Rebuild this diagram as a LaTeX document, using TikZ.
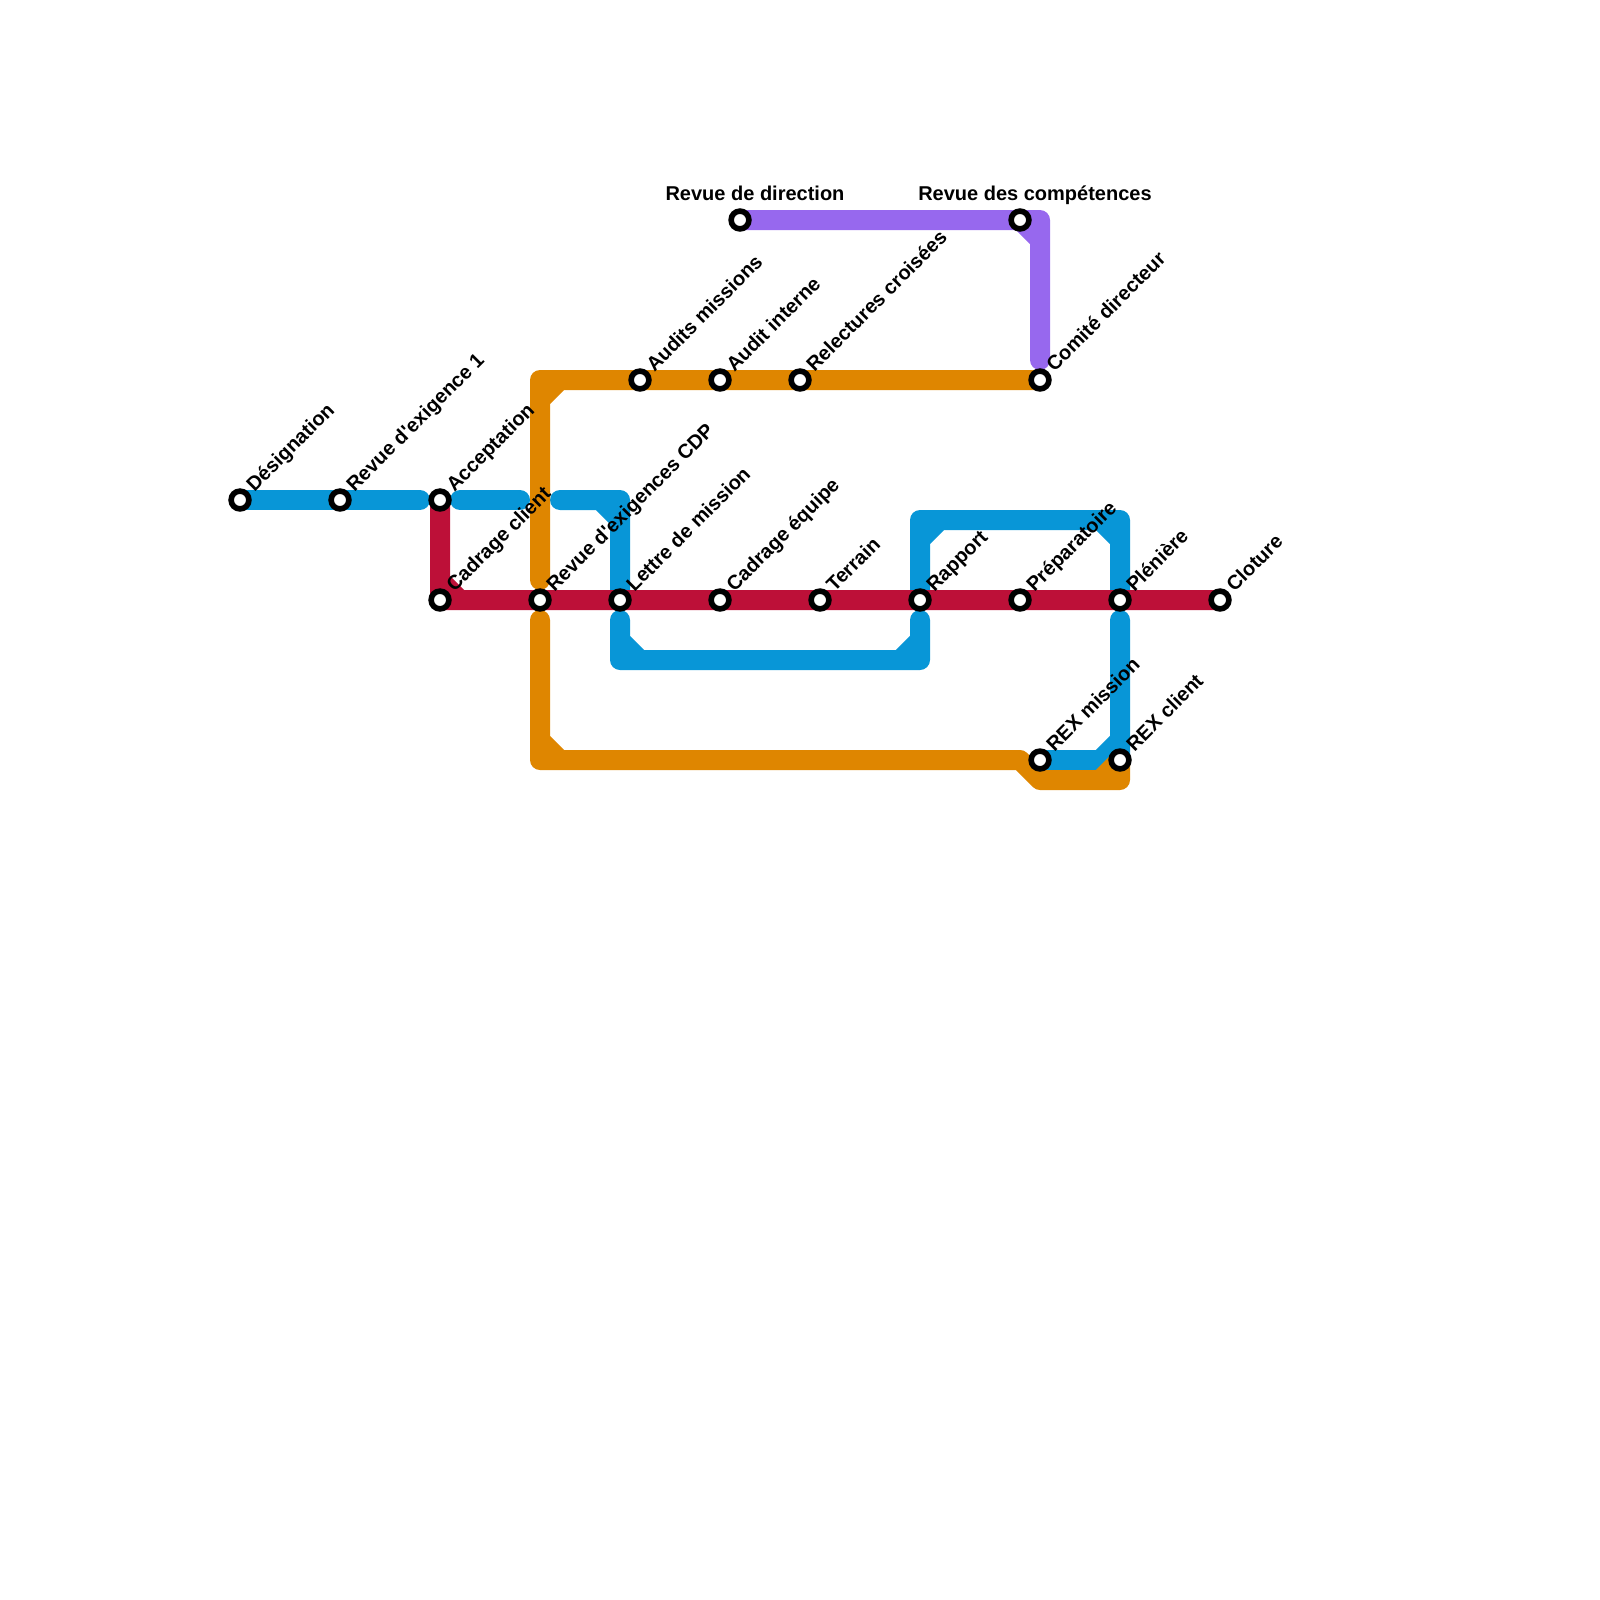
\documentclass[tikz,border=0pt]{standalone}
\usepackage{fontspec}
\setmainfont{Liberation Sans}[BoldFont=* Bold]
\pgfdeclarelayer{lblue}\pgfdeclarelayer{lorange}\pgfdeclarelayer{lpurple}\pgfdeclarelayer{lred}
\pgfsetlayers{lblue,lorange,lpurple,lred,main}
\definecolor{cblue}{HTML}{0896D7}
\definecolor{corange}{HTML}{DF8600}
\definecolor{cred}{HTML}{BD1038}
\definecolor{cpurple}{HTML}{9768EE}
\tikzset{
  x=1pt,y=-1pt,
  track/.style={line width=20pt,line cap=round,line join=round},
  stn/.style={circle,draw=black,fill=white,line width=5.6pt,minimum size=17.8pt,inner sep=0pt,outer sep=0pt},
  lab/.style={font=\bfseries\fontsize{20}{22}\selectfont,text=black,inner sep=0pt,outer sep=0pt},
  diag/.style={lab,rotate=45,anchor=base west},
  top/.style={lab,anchor=base},
}
\begin{document}
\begin{tikzpicture}
\useasboundingbox (0,0) rectangle (1600,1600);
% stations
\node[stn] (desig) at (240,500) {};
\node[stn] (rev1) at (340,500) {};
\node[stn] (accept) at (440,500) {};
\node[stn] (cadcl) at (440,600) {};
\node[stn] (revcdp) at (540,600) {};
\node[stn] (lettre) at (620,600) {};
\node[stn] (cadeq) at (720,600) {};
\node[stn] (terrain) at (820,600) {};
\node[stn] (rapport) at (920,600) {};
\node[stn] (prepa) at (1020,600) {};
\node[stn] (plen) at (1120,600) {};
\node[stn] (clot) at (1220,600) {};
\node[stn] (audits) at (640,380) {};
\node[stn] (audint) at (720,380) {};
\node[stn] (relec) at (800,380) {};
\node[stn] (comite) at (1040,380) {};
\node[stn] (revdir) at (740,220) {};
\node[stn] (revcomp) at (1020,220) {};
\node[stn] (rexm) at (1040,760) {};
\node[stn] (rexc) at (1120,760) {};
% labels
\node[diag] (ldesig) at ([shift={(14.5,-7.5)}]desig.center) {Désignation};
\node[diag] (lrev1) at ([shift={(14.5,-7.5)}]rev1.center) {Revue d\textquotesingle exigence 1};
\node[diag] (laccept) at ([shift={(14.5,-7.5)}]accept.center) {Acceptation};
\node[diag] (lcadcl) at ([shift={(14.5,-7.5)}]cadcl.center) {Cadrage client};
\node[diag] (lrevcdp) at ([shift={(14.5,-7.5)}]revcdp.center) {Revue d\textquotesingle exigences CDP};
\node[diag] (llettre) at ([shift={(14.5,-7.5)}]lettre.center) {Lettre de mission};
\node[diag] (lcadeq) at ([shift={(14.5,-7.5)}]cadeq.center) {Cadrage équipe};
\node[diag] (lterrain) at ([shift={(14.5,-7.5)}]terrain.center) {Terrain};
\node[diag] (lrapport) at ([shift={(14.5,-7.5)}]rapport.center) {Rapport};
\node[diag] (lprepa) at ([shift={(14.5,-7.5)}]prepa.center) {Préparatoire};
\node[diag] (lplen) at ([shift={(14.5,-7.5)}]plen.center) {Plénière};
\node[diag] (lclot) at ([shift={(14.5,-7.5)}]clot.center) {Cloture};
\node[diag] (laudits) at ([shift={(14.5,-7.5)}]audits.center) {Audits missions};
\node[diag] (laudint) at ([shift={(14.5,-7.5)}]audint.center) {Audit interne};
\node[diag] (lrelec) at ([shift={(14.5,-7.5)}]relec.center) {Relectures croisées};
\node[diag] (lcomite) at ([shift={(14.5,-7.5)}]comite.center) {Comité directeur};
\node[diag] (lrexm) at ([shift={(14.5,-7.5)}]rexm.center) {REX mission};
\node[diag] (lrexc) at ([shift={(14.5,-7.5)}]rexc.center) {REX client};
\node[top] (lrevdir) at ([shift={(15,-20)}]revdir.center) {Revue de direction};
\node[top] (lrevcomp) at ([shift={(15,-20)}]revcomp.center) {Revue des compétences};
% blue line
\begin{pgfonlayer}{lblue}
\coordinate (b1e) at (420,500);
\coordinate (b2s) at (460,500);
\coordinate (b2e) at (520,500);
\coordinate (b3s) at (560,500);
\coordinate (b3a) at (600,500);
\coordinate (b3c) at (620,500);
\coordinate (b3b) at (620,520);
\draw[track,cblue] (desig.center) -- (rev1.center) -- (b1e);
\draw[track,cblue] (b2s) -- (b2e);
\draw[track,cblue] (b3s) -- (b3c) -- (lettre.center) (b3a) -- (b3b);
\coordinate (b4s) at (620,620);
\coordinate (b4a) at (620,640);
\coordinate (b4c) at (620,660);
\coordinate (b4b) at (640,660);
\coordinate (b4f) at (900,660);
\coordinate (b4d) at (920,660);
\coordinate (b4g) at (920,640);
\coordinate (b4e) at (920,620);
\draw[track,cblue] (b4s) -- (b4c) -- (b4d) -- (b4e) (b4a) -- (b4b) (b4f) -- (b4g);
\coordinate (b5a) at (920,540);
\coordinate (b5c) at (920,520);
\coordinate (b5b) at (940,520);
\coordinate (b5f) at (1100,520);
\coordinate (b5d) at (1120,520);
\coordinate (b5g) at (1120,540);
\draw[track,cblue] (rapport.center) -- (b5c) -- (b5d) -- (plen.center) (b5a) -- (b5b) (b5f) -- (b5g);
\coordinate (b6s) at (1120,620);
\coordinate (b6a) at (1120,740);
\coordinate (b6b) at (1100,760);
\draw[track,cblue] (b6s) -- (rexc.center) -- (rexm.center) (b6a) -- (b6b);
\end{pgfonlayer}
% orange line
\begin{pgfonlayer}{lorange}
\coordinate (o1s) at (540,580);
\coordinate (o1c) at (540,380);
\coordinate (o1a) at (540,400);
\coordinate (o1b) at (560,380);
\draw[track,corange] (o1s) -- (o1c) -- (audits.center) -- (audint.center) -- (relec.center) -- (comite.center) (o1a) -- (o1b);
\coordinate (o2s) at (540,620);
\coordinate (o2a) at (540,740);
\coordinate (o2c) at (540,760);
\coordinate (o2b) at (560,760);
\coordinate (o2d) at (1020,760);
\coordinate (o2e) at (1040,780);
\coordinate (o2f) at (1100,780);
\coordinate (o2g) at (1120,780);
\draw[track,corange] (o2s) -- (o2c) -- (o2d) -- (o2e) -- (o2g) -- (rexc.center) (o2a) -- (o2b) (o2f) -- (rexc.center);
\end{pgfonlayer}
% purple line
\begin{pgfonlayer}{lpurple}
\coordinate (p1a) at (1040,220);
\coordinate (p1b) at (1040,240);
\coordinate (p1e) at (1040,360);
\draw[track,cpurple] (revdir.center) -- (revcomp.center) -- (p1a) -- (p1e) (revcomp.center) -- (p1b);
\end{pgfonlayer}
% red line
\begin{pgfonlayer}{lred}
\coordinate (r1a) at (440,580);
\coordinate (r1b) at (460,600);
\draw[track,cred] (accept.center) -- (cadcl.center) -- (revcdp.center) -- (lettre.center) -- (cadeq.center) -- (terrain.center) -- (rapport.center) -- (prepa.center) -- (plen.center) -- (clot.center) (r1a) -- (r1b);
\end{pgfonlayer}
\end{tikzpicture}
\end{document}
